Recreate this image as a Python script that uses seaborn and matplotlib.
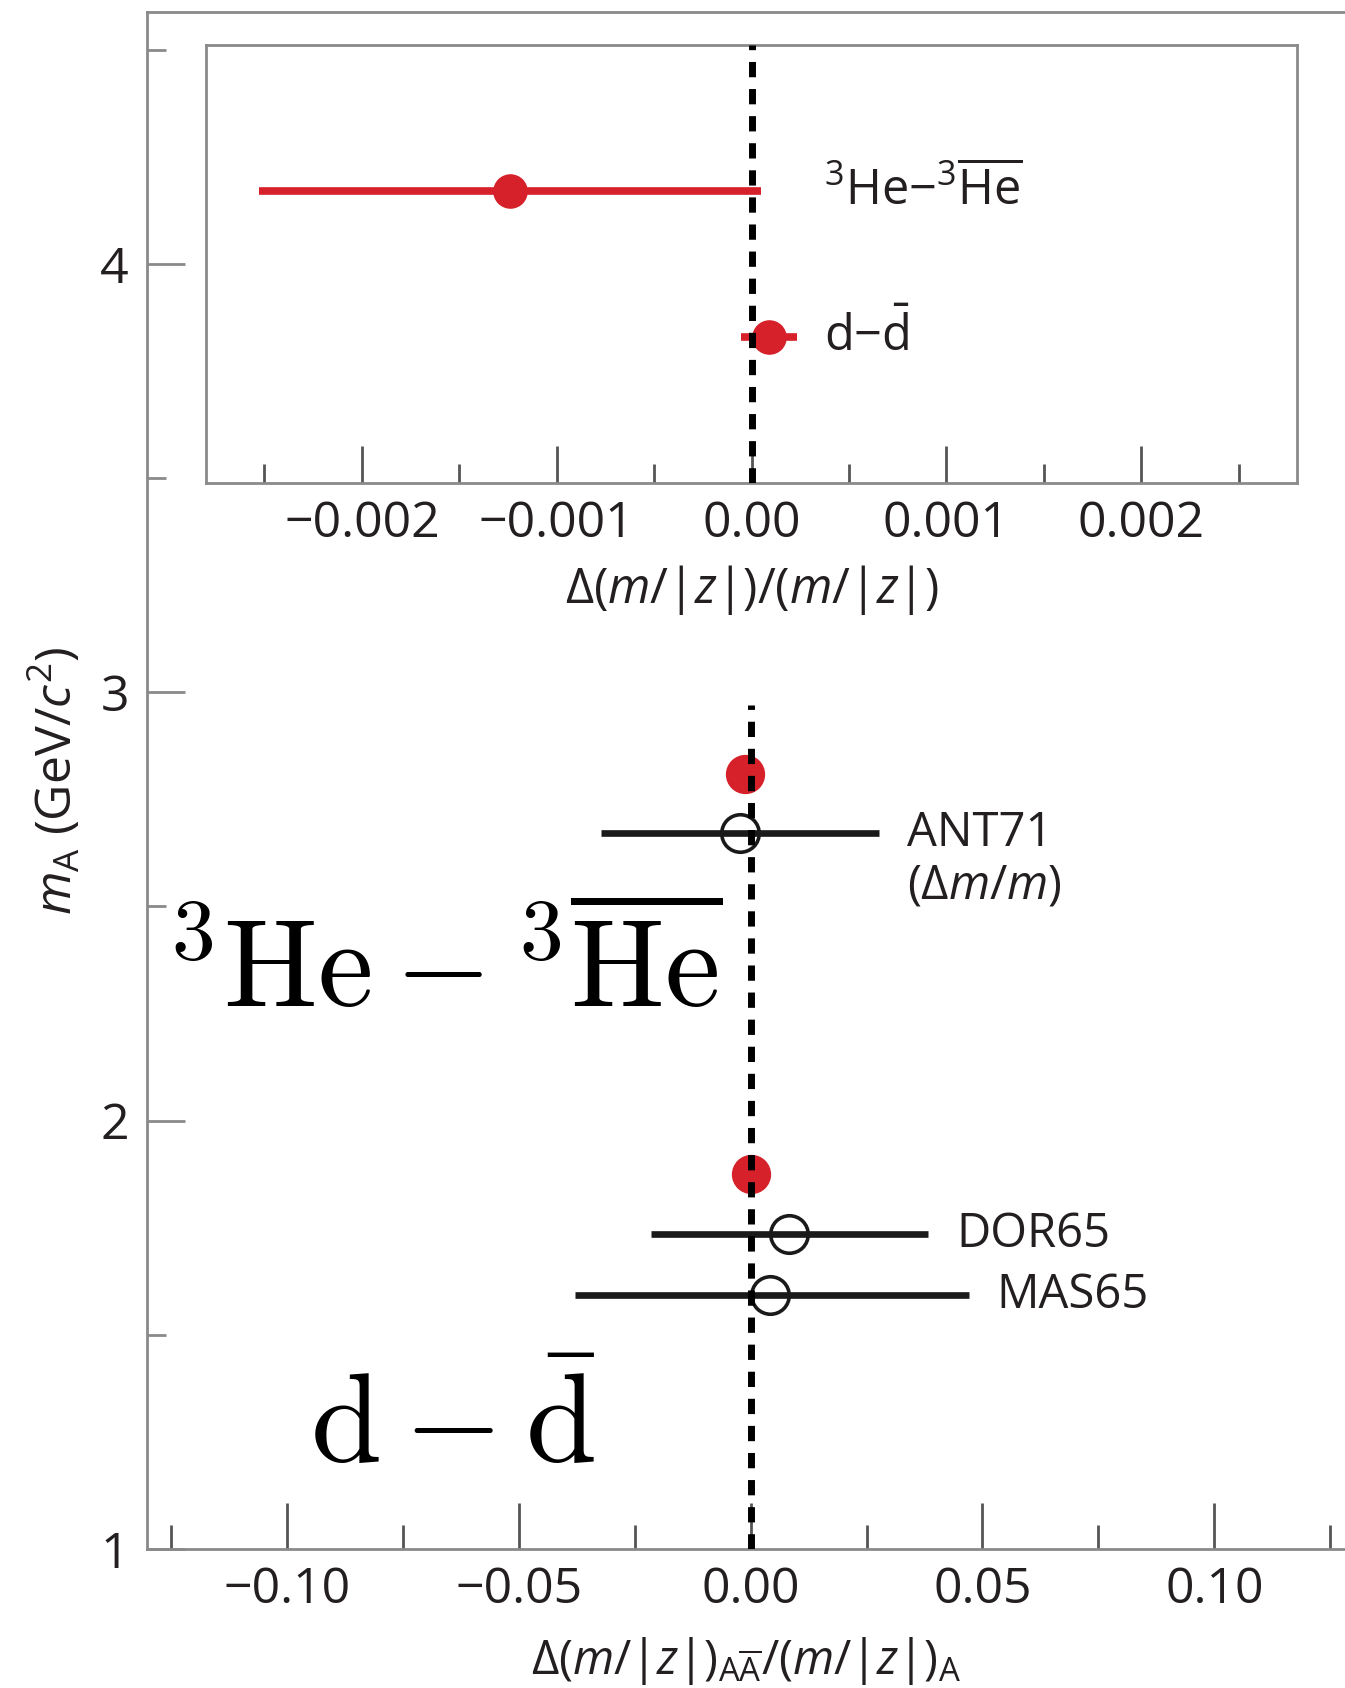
import matplotlib
matplotlib.use("Agg")
import matplotlib.pyplot as plt
import matplotlib.ticker as mticker
import pandas as pd
import seaborn as sns

# ALICE mass-over-charge differences (inset) and the nuclear masses they refer to
alice_labels = ["$^{3}$He\u2212$^{3}\\overline{\\mathrm{He}}$", "d\u2212$\\bar{\\mathrm{d}}$"]
alice_mass = [2.809, 1.876]          # m_A in GeV/c^2
alice_delta = [-0.00124, 0.00009]    # Delta(m/|z|)/(m/|z|)
alice_err = [0.00129, 0.000145]
alice_row = [2, 1]                   # row of each nucleus in the inset

# earlier measurements shown below each nucleus
prev_labels = ["ANT71", "DOR65", "MAS65"]
prev_notes = ["$(\\Delta m/m)$", "", ""]
prev_mass = [2.672, 1.736, 1.592]
prev_delta = [-0.0023, 0.0082, 0.0041]
prev_lo = [-0.0322, -0.0214, -0.0379]
prev_hi = [0.0277, 0.0383, 0.0471]

# axis ticks
main_xticks = [-0.10, -0.05, 0.00, 0.05, 0.10]
main_xticklabels = ["\u22120.10", "\u22120.05", "0.00", "0.05", "0.10"]
main_yticks = [1, 2, 3, 4]
inset_xticks = [-0.002, -0.001, 0.0, 0.001, 0.002]
inset_xticklabels = ["\u22120.002", "\u22120.001", "0.00", "0.001", "0.002"]

alice = pd.DataFrame({"label": alice_labels, "mass": alice_mass, "delta": alice_delta,
                      "err": alice_err, "row": alice_row})
prev = pd.DataFrame({"label": prev_labels, "note": prev_notes, "mass": prev_mass,
                     "delta": prev_delta, "lo": prev_lo, "hi": prev_hi})

RED = "#d6202a"
INK = "#1a1a1a"
TXT = "#231f20"
SPINE = "#8a8a8a"

sns.set_theme(style="ticks")
plt.rcParams["font.family"] = ["Open Sans", "DejaVu Sans"]
plt.rcParams.update({
    "mathtext.fontset": "custom",
    "mathtext.rm": "Open Sans",
    "mathtext.it": "Open Sans:italic",
    "mathtext.bf": "Open Sans:bold",
    "mathtext.sf": "Open Sans",
    "text.color": TXT,
    "axes.labelcolor": TXT,
    "xtick.color": SPINE,
    "ytick.color": SPINE,
    "xtick.labelcolor": TXT,
    "ytick.labelcolor": TXT,
    "axes.edgecolor": SPINE,
    "axes.linewidth": 2.0,
})

fig = plt.figure(figsize=(13.45, 16.88), dpi=100)
ax = fig.add_axes([0.1093, 0.0823, 0.8907, 0.9106])

# ---------------- main panel ----------------
ax.set_xlim(-0.1302, 0.1282)
ax.set_ylim(1, 4.588)
ax.spines["right"].set_visible(False)

# earlier measurements: open circles with horizontal error bars
ax.errorbar(prev["delta"], prev["mass"],
            xerr=[prev["delta"] - prev["lo"], prev["hi"] - prev["delta"]],
            fmt="o", ms=27, mfc="none", mec=INK, mew=2.6,
            ecolor=INK, elinewidth=4.8, capsize=0, zorder=3)

# ALICE values at the nuclear masses
ax.errorbar(alice["delta"], alice["mass"], xerr=alice["err"], fmt="none",
            ecolor=RED, elinewidth=5.0, capsize=0, zorder=3)
sns.scatterplot(data=alice, x="delta", y="mass", ax=ax, color=RED, s=800,
                linewidth=0, zorder=4, legend=False)

# zero line
ax.vlines(0, 1, 2.97, colors="black", linewidth=5.0,
          linestyles=[(0, (2.2, 1.7))], zorder=6)

for _, r in prev.iterrows():
    ax.annotate(r["label"], xy=(r["hi"], r["mass"]), xytext=(20, 0),
                textcoords="offset points", ha="left", va="center",
                fontsize=34, color=TXT)
    if r["note"]:
        ax.annotate(r["note"], xy=(r["hi"], r["mass"]), xytext=(20, -38),
                    textcoords="offset points", ha="left", va="center",
                    fontsize=34, color=TXT)

# large nucleus names
ax.text(-0.1262, 2.265, r"${}^{3}\mathrm{He} - {}^{3}\overline{\mathrm{He}}$",
        fontsize=90, color="black", ha="left", va="baseline",
        math_fontfamily="cm", zorder=5)
ax.text(-0.0950, 1.20, r"$\mathrm{d} - \bar{\mathrm{d}}$",
        fontsize=92, color="black", ha="left", va="baseline",
        math_fontfamily="cm", zorder=5)

ax.set_xticks(main_xticks)
ax.set_xticklabels(main_xticklabels)
ax.xaxis.set_minor_locator(mticker.MultipleLocator(0.025))
ax.set_yticks(main_yticks)
ax.set_yticklabels([str(v) for v in main_yticks])
ax.yaxis.set_minor_locator(mticker.MultipleLocator(0.5))
ax.tick_params(axis="x", which="major", direction="in", length=33, width=2.0,
               pad=12, labelsize=36, color="#555555")
ax.tick_params(axis="x", which="minor", direction="in", length=17, width=2.0,
               color="#555555")
ax.tick_params(axis="y", which="major", direction="in", length=27, width=2.0,
               pad=13, labelsize=36)
ax.tick_params(axis="y", which="minor", direction="in", length=14, width=2.0)

ax.set_xlabel("\u0394($m$/|$z$|)$_{\\mathrm{A}\\overline{\\mathrm{A}}}$/($m$/|$z$|)$_{\\mathrm{A}}$",
              fontsize=34, labelpad=14)
ax.set_ylabel(r"$m_{\mathrm{A}}$ (GeV/$c^{2}$)", fontsize=36, labelpad=12)

# ---------------- inset ----------------
ins = fig.add_axes([0.1532, 0.71386, 0.8111, 0.2592])
ins.set_facecolor("white")
ins.set_xlim(-0.0028, 0.0028)
ins.set_ylim(0, 3)

ins.errorbar(alice["delta"], alice["row"], xerr=alice["err"], fmt="none",
             ecolor=RED, elinewidth=5.5, capsize=0, zorder=3)
sns.scatterplot(data=alice, x="delta", y="row", ax=ins, color=RED, s=620,
                linewidth=0, zorder=4, legend=False)
ins.axvline(0, color="black", linewidth=5.0, linestyle=(0, (2.2, 1.7)), zorder=6)

for _, r in alice.iterrows():
    ins.annotate(r["label"], xy=(0.00037, r["row"]), ha="left", va="center",
                 fontsize=35, color=TXT)

ins.set_xticks(inset_xticks)
ins.set_xticklabels(inset_xticklabels)
ins.xaxis.set_minor_locator(mticker.MultipleLocator(0.0005))
ins.set_yticks([])
ins.tick_params(axis="x", which="major", direction="in", length=27, width=2.0,
                pad=12, labelsize=36, color="#555555")
ins.tick_params(axis="x", which="minor", direction="in", length=14, width=2.0,
                color="#555555")
ins.set_ylabel("")
ins.set_xlabel("\u0394($m$/|$z$|)/($m$/|$z$|)", fontsize=35, labelpad=10)

fig.savefig("out.png", dpi=100)
